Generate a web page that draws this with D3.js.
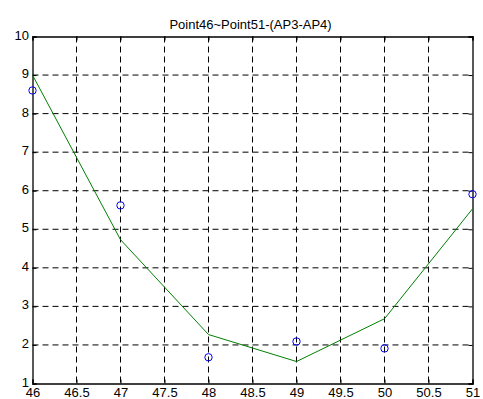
<!DOCTYPE html>
<html><head><meta charset="utf-8">
<script src="https://cdn.jsdelivr.net/npm/d3@7"></script>
<style>body{margin:0;background:#fff;} svg{display:block;} text{font-family:"Liberation Sans",Arial,sans-serif;}</style>
</head><body>
<script>
const xValues = [46, 47, 48, 49, 50, 51];
const measured = [8.6, 5.62, 1.68, 2.09, 1.91, 5.91];
const fitted = [9.0, 4.73, 2.27, 1.57, 2.68, 5.53];
const xTicks = [46, 46.5, 47, 47.5, 48, 48.5, 49, 49.5, 50, 50.5, 51];
const yTicks = [1, 2, 3, 4, 5, 6, 7, 8, 9, 10];
const title = "Point46~Point51-(AP3-AP4)";

const W = 483, H = 399;
const m = {left: 32.5, right: 472.5, top: 36.5, bottom: 383.5};
const svg = d3.select("body").append("svg").attr("width", W).attr("height", H);
const x = d3.scaleLinear().domain([46, 51]).range([m.left, m.right]);
const y = d3.scaleLinear().domain([1, 10]).range([m.bottom, m.top]);

// grid
svg.append("g").selectAll("line").data(xTicks.slice(1, -1)).join("line")
  .attr("x1", d => x(d)).attr("x2", d => x(d)).attr("y1", m.top).attr("y2", m.bottom)
  .attr("stroke", "#000").attr("stroke-dasharray", "6,4").attr("stroke-width", 1);
svg.append("g").selectAll("line").data(yTicks.slice(1, -1)).join("line")
  .attr("y1", d => y(d)).attr("y2", d => y(d)).attr("x1", m.left).attr("x2", m.right)
  .attr("stroke", "#000").attr("stroke-dasharray", "6,4").attr("stroke-width", 1);

// axes
const fs = "13px";
const xAxis = svg.append("g").attr("transform", `translate(0,${m.bottom})`)
  .call(d3.axisBottom(x).tickValues(xTicks).tickSize(-4).tickPadding(4).tickFormat(d3.format("")));
const yAxis = svg.append("g").attr("transform", `translate(${m.left},0)`)
  .call(d3.axisLeft(y).tickValues(yTicks).tickSize(-4).tickPadding(3.5).tickFormat(d3.format("")));
yAxis.selectAll("text").attr("dy", "0.2em");
const xTop = svg.append("g").attr("transform", `translate(0,${m.top})`)
  .call(d3.axisTop(x).tickValues(xTicks).tickSize(-4).tickFormat(""));
const yRight = svg.append("g").attr("transform", `translate(${m.right},0)`)
  .call(d3.axisRight(y).tickValues(yTicks).tickSize(-4).tickFormat(""));
[xAxis, yAxis, xTop, yRight].forEach(g => {
  g.selectAll("path.domain").attr("stroke", "#000").attr("stroke-width", 1.3);
  g.selectAll("text").attr("fill", "#000").style("font-size", fs).style("font-family", "'Liberation Sans', Arial, sans-serif");
});

// fitted line
svg.append("path").datum(xValues.map((v, i) => [v, fitted[i]]))
  .attr("fill", "none").attr("stroke", "#008000").attr("stroke-width", 1)
  .attr("d", d3.line().x(d => x(d[0])).y(d => y(d[1])));

// measured points
svg.append("g").selectAll("circle").data(xValues.map((v, i) => [v, measured[i]])).join("circle")
  .attr("cx", d => x(d[0])).attr("cy", d => y(d[1])).attr("r", 3.7)
  .attr("fill", "none").attr("stroke", "#0000ff").attr("stroke-width", 1);

svg.append("text").attr("x", 250.5).attr("y", 28.5)
  .attr("text-anchor", "middle").style("font-size", "13px").attr("fill", "#000").text(title);
</script>
</body></html>
